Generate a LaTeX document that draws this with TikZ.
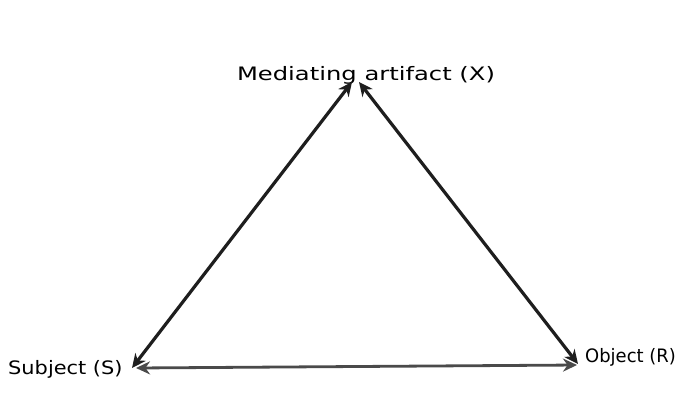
\documentclass[tikz,border=0pt]{standalone}
\usepackage{fontspec}
\usepackage{graphicx}
\setmainfont{DejaVu Sans}
\usetikzlibrary{arrows.meta}
\definecolor{ink}{HTML}{1E1E1E}
\definecolor{grayink}{HTML}{4A4A4A}
\tikzset{
  lbl/.style={inner sep=0pt, font=\fontsize{18.5}{18.5}\selectfont, text=black},
  rel/.style={line width=3.2pt, draw=ink, {Stealth[length=14pt,width=13pt]}-{Stealth[length=14pt,width=13pt]}},
}
\begin{document}
\begin{tikzpicture}[x=1pt,y=-1pt]
\useasboundingbox[fill=white] (0,0) rectangle (690,405);
\node[lbl] (X) at (366,75) {\scalebox{1.31}[1]{Mediating artifact (X)}};
\node[lbl, anchor=west] (S) at (8,369) {\scalebox{1.13}[1]{Subject (S)}};
\node[lbl, anchor=west] (R) at (585,357) {\scalebox{0.97}[1]{Object (R)}};
\coordinate (xl) at (352,82);
\coordinate (xr) at (359,82);
\coordinate (sl) at (132,368);
\coordinate (sb) at (136,368);
\coordinate (rl) at (578,364);
\coordinate (rb) at (577,365);
\draw[rel] (sl) -- (xl);
\draw[rel] (xr) -- (rl);
\draw[rel, draw=grayink, line width=2.8pt] (sb) -- (rb);
\end{tikzpicture}
\end{document}
